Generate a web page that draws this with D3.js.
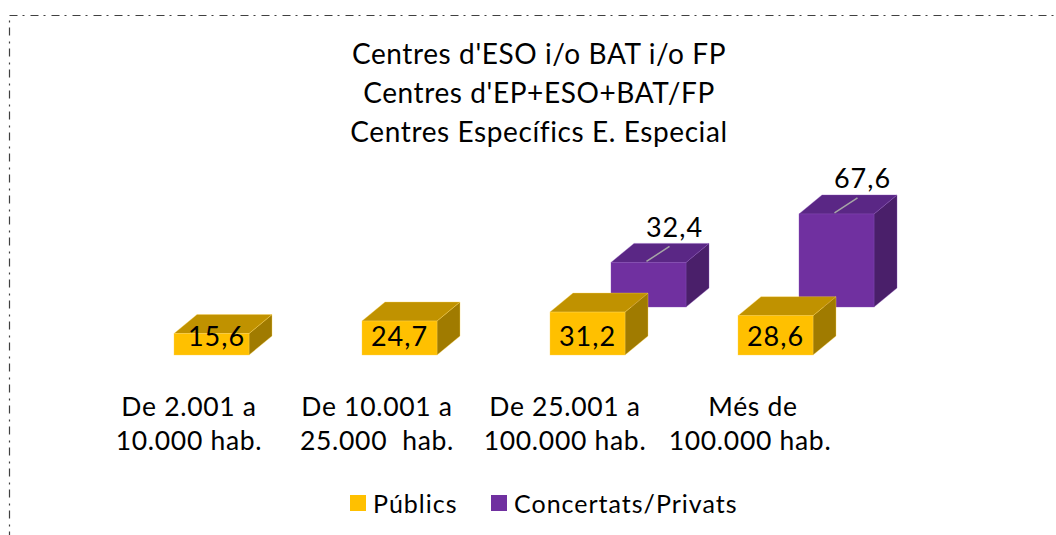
<!DOCTYPE html>
<html>
<head>
<meta charset="utf-8">
<script src="https://cdn.jsdelivr.net/npm/d3@7"></script>
<style>
  html, body { margin: 0; padding: 0; background: #fff; }
  svg { display: block; }
  text { font-family: Lato, "Open Sans", sans-serif; fill: #000; }
</style>
</head>
<body>
<svg id="chart" width="1056" height="535"></svg>
<script>
const titleLines = ["Centres d'ESO i/o BAT i/o FP", "Centres d'EP+ESO+BAT/FP", "Centres Específics E. Especial"];
const categories = [["De 2.001 a", "10.000 hab."], ["De 10.001 a", "25.000  hab."], ["De 25.001 a", "100.000 hab."], ["Més de", "100.000 hab."]];
const seriesNames = ["Públics", "Concertats/Privats"];
const publics = [15.6, 24.7, 31.2, 28.6];
const privats = [null, null, 32.4, 67.6];

const colors = {
  front: ["#FFC000", "#7030A0"],
  top:   ["#C09200", "#5A2785"],
  side:  ["#A07B00", "#4A1F6A"],
  edge:  ["#FFD455", "#8A50B8"]
};

const svg = d3.select("#chart");

// border (dash-dot), clipped at right/bottom
svg.append("rect")
  .attr("x", 9.5).attr("y", 15.5).attr("width", 1200).attr("height", 700)
  .attr("fill", "none").attr("stroke", "#404040").attr("stroke-width", 1.2)
  .attr("stroke-dasharray", "8,5,2,6");

// title
svg.append("g").selectAll("text").data(titleLines).join("text")
  .attr("x", 539).attr("y", (d, i) => 53 + i * 39)
  .attr("text-anchor", "middle").attr("dominant-baseline", "central")
  .style("font-size", "28px").style("letter-spacing", "0.6px").text(d => d);

// scales
const x = d3.scaleBand().domain(d3.range(categories.length)).range([95, 847]).paddingInner(0).paddingOuter(0);
const y = d3.scaleLinear().domain([0, 100]).range([0, 137.6]);
const barW = 75;
const depthDx = 23, depthDy = 19;
const baseY = [355, 307];      // series baseline (front bottom)
const seriesShift = [-15, 46];  // front-left offset from category center

const cx = i => x(i) + x.bandwidth() / 2;

function drawBars(vals, s) {
  const g = svg.append("g");
  vals.forEach((v, i) => {
    if (v == null) return;
    const x0 = cx(i) + seriesShift[s];
    const x1 = x0 + barW;
    const yb = baseY[s];
    const yt = yb - y(v);
    g.append("path")
      .attr("d", `M${x1},${yb}L${x1},${yt}L${x1 + depthDx},${yt - depthDy}L${x1 + depthDx},${yb - depthDy}Z`)
      .attr("fill", colors.side[s]).attr("stroke", colors.edge[s]).attr("stroke-width", 0.6).attr("stroke-opacity", 0.6);
    g.append("path")
      .attr("d", `M${x0},${yt}L${x0 + depthDx},${yt - depthDy}L${x1 + depthDx},${yt - depthDy}L${x1},${yt}Z`)
      .attr("fill", colors.top[s]).attr("stroke", colors.edge[s]).attr("stroke-width", 0.6).attr("stroke-opacity", 0.6);
    g.append("rect")
      .attr("x", x0).attr("y", yt).attr("width", barW).attr("height", yb - yt)
      .attr("fill", colors.front[s]).attr("stroke", colors.edge[s]).attr("stroke-width", 0.6).attr("stroke-opacity", 0.6);
  });
}

drawBars(privats, 1);
drawBars(publics, 0);

const fmt = v => d3.format(".1f")(v).replace(".", ",");

// privats labels with leader lines
privats.forEach((v, i) => {
  if (v == null) return;
  const xc = cx(i) + seriesShift[1] + barW / 2;
  const yt = baseY[1] - y(v);
  svg.append("line")
    .attr("x1", xc - 2).attr("y1", yt - 1)
    .attr("x2", xc + depthDx - 2).attr("y2", yt - depthDy + 3)
    .attr("stroke", "#A6A6A6").attr("stroke-width", 1.5);
  svg.append("text")
    .attr("x", xc + depthDx + 3).attr("y", yt - depthDy - 17)
    .attr("text-anchor", "middle").attr("dominant-baseline", "central")
    .style("font-size", "27px").style("letter-spacing", "1px").text(fmt(v));
});

// publics labels
publics.forEach((v, i) => {
  const xc = cx(i) + seriesShift[0] + barW / 2;
  svg.append("text")
    .attr("x", xc + (i === 0 ? 5 : 0)).attr("y", baseY[0] - 20)
    .attr("text-anchor", "middle").attr("dominant-baseline", "central")
    .style("font-size", "27px").style("letter-spacing", "1px").text(fmt(v));
});

// category labels
const cat = svg.append("g");
categories.forEach((lines, i) => {
  lines.forEach((t, j) => {
    cat.append("text")
      .attr("x", cx(i) - (j === 1 && i === 3 ? 3 : 0)).attr("y", 406 + j * 34)
      .attr("text-anchor", "middle").attr("dominant-baseline", "central")
      .style("font-size", "26.5px").style("letter-spacing", "0.7px")
      .style("white-space", "pre").attr("xml:space", "preserve").text(t);
  });
});

// legend
const legendItems = [{ name: seriesNames[0], x: 350, c: colors.front[0] }, { name: seriesNames[1], x: 491, c: colors.front[1] }];
const lg = svg.append("g");
legendItems.forEach(d => {
  lg.append("rect").attr("x", d.x).attr("y", 495).attr("width", 16).attr("height", 16).attr("fill", d.c);
  lg.append("text").attr("x", d.x + 23).attr("y", 503).attr("dominant-baseline", "central")
    .style("font-size", "25px").style("letter-spacing", "1px").text(d.name);
});
</script>
</body>
</html>
